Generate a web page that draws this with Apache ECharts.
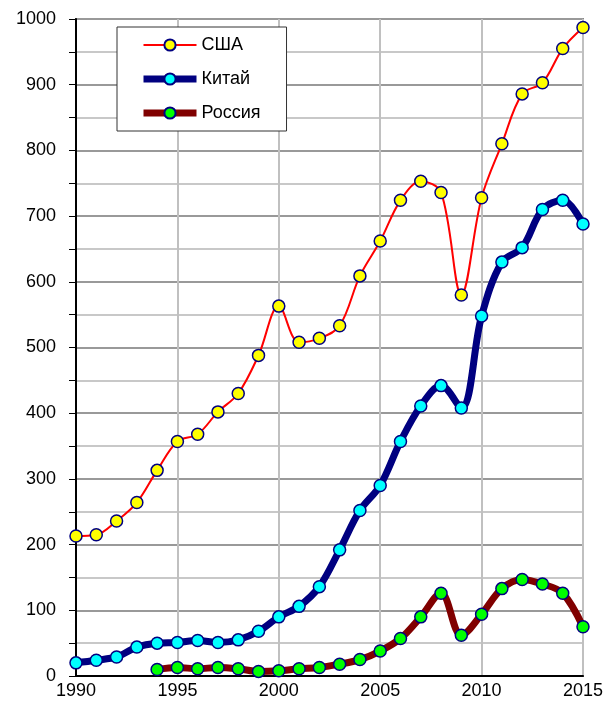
<!DOCTYPE html>
<html>
<head>
<meta charset="utf-8">
<script src="https://cdn.jsdelivr.net/npm/echarts@6/dist/echarts.min.js"></script>
<style>html,body{margin:0;padding:0;background:#fff}#c{width:607px;height:701px}</style>
</head>
<body>
<div id="c"></div>
<script>
const usaYears = [1990,1991,1992,1993,1994,1995,1996,1997,1998,1999,2000,2001,2002,2003,2004,2005,2006,2007,2008,2009,2010,2011,2012,2013,2014,2015];
const usaValues = [213,215,236,264,313,357,368,402,430,488,563,508,514,533,609,662,724,753,736,580,728,810,886,903,955,987];
const chinaYears = usaYears;
const chinaValues = [20,24,29,44,50,51,54,51,55,68,90,106,136,192,252,290,357,411,442,408,548,630,652,710,724,688];
const russiaYears = [1994,1995,1996,1997,1998,1999,2000,2001,2002,2003,2004,2005,2006,2007,2008,2009,2010,2011,2012,2013,2014,2015];
const russiaValues = [10,13,11,13,11,7,8,11,13,18,25,38,57,90,126,62,94,133,147,140,126,75];
const seriesNames = ['США','Китай','Россия'];

function pairs(xs, ys){ return xs.map((x,i)=>[x, ys[i]]); }

const chart = echarts.init(document.getElementById('c'), null, {renderer:'canvas'});
const font = '"Liberation Sans", Arial, sans-serif';
chart.setOption({
  animation:false,
  backgroundColor:'#fff',
  grid:{left:76, right:24, top:19, bottom:25, show:true, borderColor:'#888', borderWidth:2, backgroundColor:'transparent'},
  legend:{
    orient:'vertical', left:117, top:27,
    data:seriesNames,
    backgroundColor:'#fff', borderColor:'#333', borderWidth:1, borderRadius:0,
    padding:[9,26,9,23],
    itemWidth:53, itemHeight:14, itemGap:16,
    lineStyle:{width:'inherit'},
    textStyle:{fontFamily:font, fontSize:18, color:'#000'}
  },
  xAxis:{
    type:'value', min:1990, max:2015, interval:5,
    axisLine:{show:true, onZero:false, lineStyle:{color:'#000', width:2}},
    axisTick:{show:false},
    axisLabel:{fontFamily:font, fontSize:18, color:'#000', margin:6, formatter:v=>String(v)},
    splitLine:{show:true, lineStyle:{color:'#c0c0c0', width:2}}
  },
  yAxis:{
    type:'value', min:0, max:1000, interval:100,
    axisLine:{show:true, lineStyle:{color:'#000', width:2}},
    axisTick:{show:true, inside:false, length:7, lineStyle:{color:'#000', width:1}},
    minorTick:{show:true, splitNumber:2, length:7, lineStyle:{color:'#000', width:1}},
    axisLabel:{fontFamily:font, fontSize:18, color:'#000', margin:20, formatter:v=>String(v)},
    splitLine:{show:true, lineStyle:{color:'#999', width:2}},
    minorSplitLine:{show:true, lineStyle:{color:'#c8c8c8', width:2}}
  },
  series:[
    {name:seriesNames[0], type:'line', data:pairs(usaYears,usaValues), smooth:0.35,
     lineStyle:{color:'#ff0000', width:2},
     symbol:'circle', symbolSize:12,
     itemStyle:{color:'#ffff00', borderColor:'#000080', borderWidth:1.5}, z:4},
    {name:seriesNames[1], type:'line', data:pairs(chinaYears,chinaValues), smooth:0.35,
     lineStyle:{color:'#000080', width:7},
     symbol:'circle', symbolSize:12,
     itemStyle:{color:'#00ffff', borderColor:'#000080', borderWidth:1.5}, z:3},
    {name:seriesNames[2], type:'line', data:pairs(russiaYears,russiaValues), smooth:0.35,
     lineStyle:{color:'#800000', width:7},
     symbol:'circle', symbolSize:12,
     itemStyle:{color:'#00ff00', borderColor:'#000080', borderWidth:1.5}, z:2}
  ]
});
</script>
</body>
</html>
